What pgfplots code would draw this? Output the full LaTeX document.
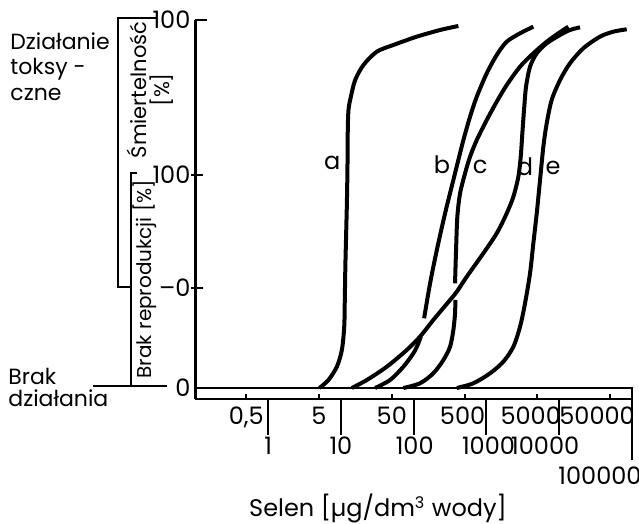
\documentclass[border=0pt]{standalone}
\usepackage{pgfplots}
\pgfplotsset{compat=1.18}
\usepackage{fontspec}
\setmainfont{Poppins}
\newcommand{\sh}[2]{\makebox[0pt]{\hspace*{#1}#2}}
\begin{document}
\begin{tikzpicture}[font=\fontsize{11}{13}\selectfont]
\path[use as bounding box] (0,0) rectangle (319.5pt,262pt);
% left annotations
\node[anchor=base west, inner sep=0] at (5pt,237pt) {Działanie};
\node[anchor=base west, inner sep=0] at (5pt,224.5pt) {toksy -};
\node[anchor=base west, inner sep=0] at (5pt,211.5pt) {czne};
\node[anchor=base west, inner sep=0] at (4pt,69.5pt) {Brak};
\node[anchor=base west, inner sep=0] at (4pt,58.5pt) {działania};
\draw[line width=1pt] (78.5pt,253pt) -- (59pt,253pt) -- (59pt,118.5pt) -- (65.5pt,118.5pt);
\draw[line width=1pt] (68.5pt,175.5pt) -- (65.5pt,175.5pt) -- (65.5pt,69pt);
\draw[line width=1pt] (46.5pt,69pt) -- (83.5pt,69pt);
\node[rotate=90, align=center, inner sep=0, font=\fontsize{10.5}{11.5}\selectfont] at (75pt,217pt) {Śmiertelność\\{[\%]}};
\node[rotate=90, inner sep=0, font=\fontsize{10}{11}\selectfont] at (72.5pt,122.5pt) {Brak reprodukcji [\%]};
\begin{axis}[
  at={(97.7pt,62.5pt)}, anchor=south west,
  scale only axis, width=218.3pt, height=189.5pt,
  xmode=log, xmin=0.1, xmax=100000, ymin=-11, ymax=368,
  axis x line*=bottom, axis y line*=left,
  axis line style={line width=1.1pt},
  clip=false,
  major tick length=0pt, xminorticks=false, yminorticks=false,
  xtick={0.5,5,50,500,5000,50000},
  xticklabels={{0,5},5,50,\sh{-2pt}{500},\sh{-6.6pt}{5000},\sh{-13pt}{50000}},
  xticklabel style={anchor=base, yshift=-13pt},
  extra x ticks={1,10,100,1000,10000},
  extra x tick labels={1,10,\sh{1pt}{100},\sh{2pt}{1000},\sh{-14pt}{10000}},
  extra x tick style={xticklabel style={yshift=-15pt}},
  ytick={0,100,213,368},
  yticklabels={0,--0,100,100},
  yticklabel style={xshift=1pt},
  tick label style={font=\fontsize{12}{14}\selectfont},
]
% baseline and ticks
\draw[line width=1.1pt] (axis cs:0.1,0) -- (axis cs:100000,0) -- (axis cs:100000,-11) -- ++(0pt,-30.5pt);
\pgfplotsinvokeforeach{1,10,100,1000,10000}{\draw[line width=1pt] (axis cs:#1,-11) -- ++(0pt,-18pt);}
\pgfplotsinvokeforeach{0.5,5,50,500,5000,50000}{\draw[line width=1pt] (axis cs:#1,-11) -- ++(0pt,2.5pt);}
\draw[line width=1pt] (axis cs:0.1,100) ++(-2pt,0pt) -- ++(6pt,0pt);
\draw[line width=1pt] (axis cs:0.1,213) ++(-2pt,0pt) -- ++(6pt,0pt);
\draw[line width=1pt] (axis cs:0.1,368) -- ++(6pt,0pt);
\node[anchor=base, font=\fontsize{12}{14}\selectfont] at (axis cs:100000,-11) [yshift=-43pt, xshift=-16pt] {100000};
% curve a
\addplot[line width=2pt, smooth, tension=0.5] coordinates {
(5.07,0) (6.74,8) (8.79,21.3) (10.3,38) (11.1,61.3) (11.3,88) (11.5,121.3) (11.8,154.7)
(12.1,188) (12.3,221.3) (12.4,254.7) (12.7,278) (13.7,291.3) (15.7,308) (20.4,323)
(31.1,336.3) (52.6,343) (110,351.3) (231,358) (411,362)};
% curve b lower
\addplot[line width=2pt, smooth, tension=0.5] coordinates {
(29.5,0) (47.4,8) (72.2,21.3) (99,34.7) (116,44.7) (125,51.3)};
% curve b upper
\addplot[line width=2pt, smooth, tension=0.5] coordinates {
(139,69.7) (168,104.7) (208,138) (270,174.7) (351,208) (411,228) (482,248) (595,271.3)
(736,291.3) (1009,314.7) (1384,333) (1900,346.3) (2895,354.7) (4410,361.3)};
% curve c lower
\addplot[line width=2pt, smooth, tension=0.5] coordinates {
(72.2,0) (122,4.7) (186,14.7) (256,28) (316,41.3) (351,58) (370,74.7) (374,88)};
% curve c upper
\addplot[line width=2pt, smooth, tension=0.5] coordinates {
(370,104.7) (382,138) (398,171.3) (434,194.7) (508,214.7) (595,231.3) (736,248) (1009,268)
(1384,286.3) (1900,303) (2895,321.3) (4410,334.7) (6730,346.3) (9720,354.7) (13340,361.3)};
% curve d
\addplot[line width=2pt, smooth, tension=0.5] coordinates {
(14.1,0) (22.7,8) (42.7,21.3) (80.4,38) (122,51.3) (186,68) (316,88) (391,96.3) (536,111.3)
(906,134.7) (1384,154.7) (1900,174.7) (2342,191.3) (2744,211.3) (2958,231.3) (3113,254.7)
(3283,278) (3499,301.3) (3970,321.3) (4909,334.7) (6730,344.7) (10260,353) (14060,358) (19320,360.7)};
% curve e
\addplot[line width=2pt, smooth, tension=0.5] coordinates {
(391,0) (661,4.7) (1120,14.7) (1706,26.3) (2342,41.3) (2895,61.3) (3389,84.7) (3970,114.7)
(4410,144.7) (4909,174.7) (5450,208) (6050,241.3) (6730,264.7) (7880,288) (10260,308)
(14060,324.7) (21430,339.7) (36300,351.3) (55300,356.3) (84600,358.7)};
\node[font=\fontsize{12}{14}\selectfont] at (axis cs:7.57,225) {a};
\node[font=\fontsize{12}{14}\selectfont] at (axis cs:245,223) {b};
\node[font=\fontsize{12}{14}\selectfont] at (axis cs:817,221) {c};
\node[font=\fontsize{12}{14}\selectfont] at (axis cs:3390,221) {d};
\node[font=\fontsize{12}{14}\selectfont] at (axis cs:8220,220) {e};
\end{axis}
\node[anchor=base, inner sep=0, font=\fontsize{12}{14}\selectfont] at (189pt,3.5pt) {Selen [µg/dm\textsuperscript{3} wody]};
\end{tikzpicture}
\end{document}
